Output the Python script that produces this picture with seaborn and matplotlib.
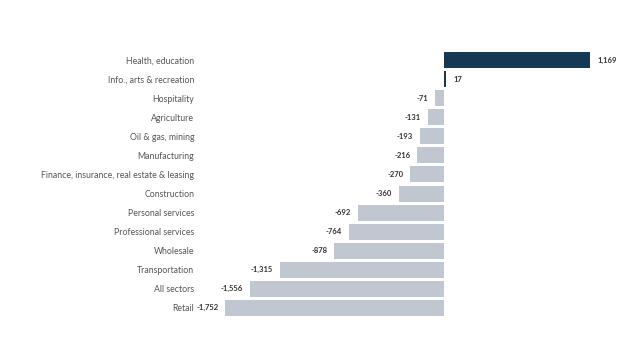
import matplotlib
matplotlib.use("Agg")
import matplotlib.pyplot as plt
import seaborn as sns
import pandas as pd

sectors = ["Health, education", "Info., arts & recreation", "Hospitality", "Agriculture",
           "Oil & gas, mining", "Manufacturing", "Finance, insurance, real estate & leasing",
           "Construction", "Personal services", "Professional services", "Wholesale",
           "Transportation", "All sectors", "Retail"]
change = [1169, 17, -71, -131, -193, -216, -270, -360, -692, -764, -878, -1315, -1556, -1752]

df = pd.DataFrame({"sector": sectors, "change": change})
df["sign"] = ["pos" if v > 0 else "neg" for v in change]

sns.set_style("white")
plt.rcParams["font.family"] = ["Lato", "DejaVu Sans"]

fig = plt.figure(figsize=(6.36, 3.62), dpi=100)
ax = fig.add_axes([0.325, 0.123, 0.629, 0.7375])

sns.barplot(data=df, x="change", y="sector", hue="sign", palette={"pos": "#0b3b5e", "neg": "#bec6d2"},
            dodge=False, legend=False, width=0.84, linewidth=0, ax=ax)

for c in ax.containers:
    ax.bar_label(c, labels=[f"{v:,.0f}" for v in c.datavalues], padding=5,
                 fontsize=5.5, color="#333333", fontweight="bold")

ax.set_xlim(-1900, 1300)
ax.set_ylim(13.5, -0.5)
ax.set_xlabel("")
ax.set_ylabel("")
ax.set_xticks([])
ax.tick_params(axis="y", length=0, pad=9, labelsize=6.3, labelcolor="#555555")
sns.despine(ax=ax, left=True, bottom=True)

fig.savefig("out.png", dpi=100)
